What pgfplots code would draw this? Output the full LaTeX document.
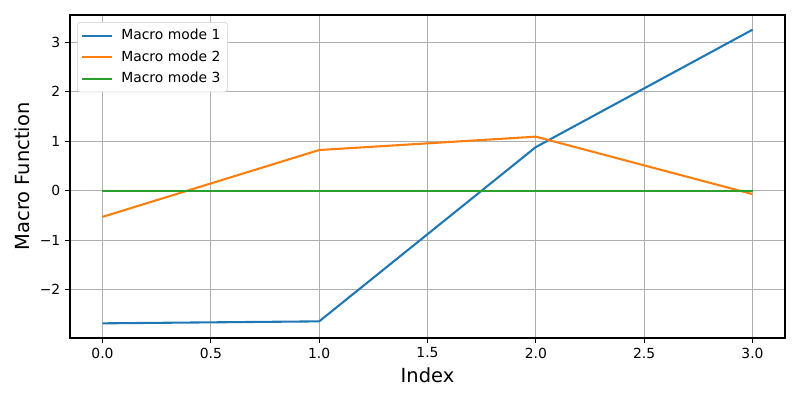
\documentclass[border=0pt]{standalone}
\usepackage{fontspec}
\setmainfont{DejaVu Sans}
\usepackage{pgfplots}
\pgfplotsset{compat=1.18}
\definecolor{c0}{HTML}{1F77B4}
\definecolor{c1}{HTML}{FF7F0E}
\definecolor{c2}{HTML}{2CA02C}
\definecolor{gridc}{HTML}{B0B0B0}
\begin{document}
\begin{tikzpicture}
\begin{axis}[
    scale only axis,
    width=514.8pt, height=232.6pt,
    xmin=-0.15, xmax=3.15,
    ymin=-2.977, ymax=3.547,
    xtick={0,0.5,1,1.5,2,2.5,3},
    xticklabels={0.0,0.5,1.0,1.5,2.0,2.5,3.0},
    ytick={-2,-1,0,1,2,3},
    yticklabels={−2,−1,0,1,2,3},
    tick align=outside,
    major tick length=3.5pt,
    every tick/.style={black, line width=0.8pt},
    tick pos=left,
    axis line style={line width=0.8pt},
    grid=major,
    major grid style={gridc, line width=0.8pt},
    ticklabel style={font=\fontsize{10}{12}\selectfont},
    xlabel={Index},
    ylabel={Macro Function},
    label style={font=\fontsize{14}{16}\selectfont},
    legend cell align=left,
    legend style={font=\fontsize{10}{12}\selectfont, draw=black!20, rounded corners=2pt,
        at={(0.0098,0.978)}, anchor=north west, inner xsep=3pt, inner ysep=3pt, row sep=2.4pt,
        /tikz/every odd column/.append style={column sep=3.6pt}},
    legend image code/.code={\draw[line width=1.5pt] (0pt,0pt) -- (21.6pt,0pt);},
]
\addplot[c0, line width=1.5pt] coordinates {(0,-2.68) (1,-2.64) (2,0.88) (3,3.25)};
\addlegendentry{Macro mode 1}
\addplot[c1, line width=1.5pt] coordinates {(0,-0.53) (1,0.82) (2,1.09) (3,-0.07)};
\addlegendentry{Macro mode 2}
\addplot[c2, line width=1.5pt] coordinates {(0,0) (1,0) (2,0) (3,0)};
\addlegendentry{Macro mode 3}
\end{axis}
\pgfresetboundingbox
\path[use as bounding box] ([shift={(-50.4pt,-44.6pt)}]current axis.south west) rectangle ([shift={(10.8pt,10.8pt)}]current axis.north east);
\end{tikzpicture}
\end{document}
